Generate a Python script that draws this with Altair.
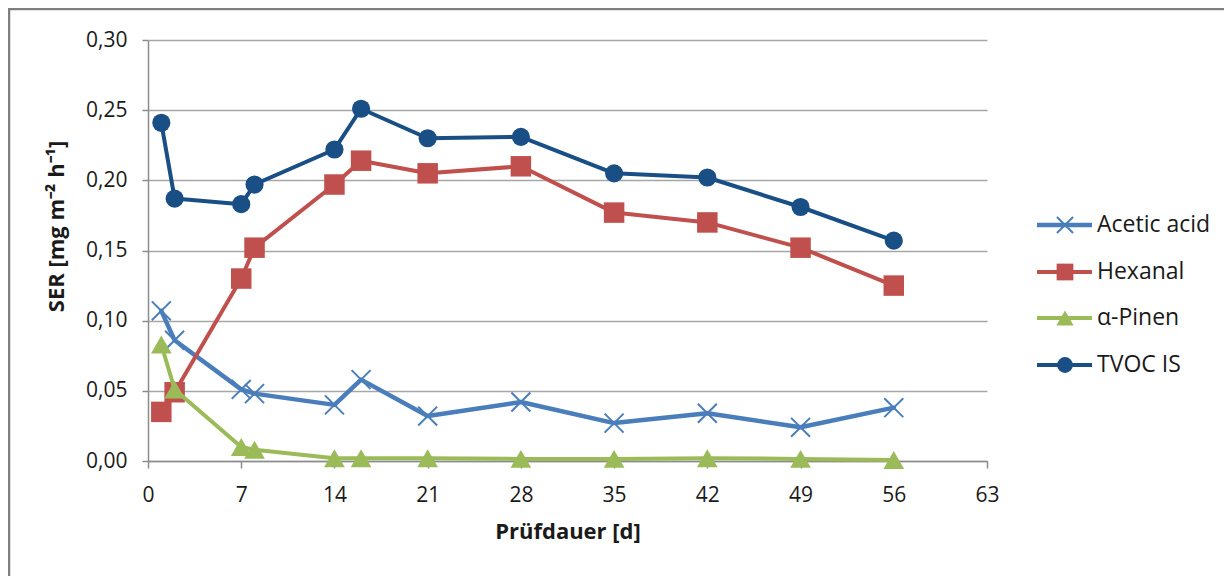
import altair as alt
import pandas as pd

# ---- data ----
days = [1, 2, 7, 8, 14, 16, 21, 28, 35, 42, 49, 56]
acetic_acid = [0.107, 0.086, 0.051, 0.048, 0.040, 0.058, 0.032, 0.042, 0.027, 0.034, 0.024, 0.038]
hexanal = [0.035, 0.049, 0.130, 0.152, 0.197, 0.214, 0.205, 0.210, 0.177, 0.170, 0.152, 0.125]
alpha_pinen = [0.083, 0.051, 0.010, 0.008, 0.002, 0.002, 0.002, 0.0015, 0.0015, 0.002, 0.0015, 0.0007]
tvoc_is = [0.241, 0.187, 0.183, 0.197, 0.222, 0.251, 0.230, 0.231, 0.205, 0.202, 0.181, 0.157]

series_names = ["Acetic acid", "Hexanal", "α-Pinen", "TVOC IS"]
series_values = [acetic_acid, hexanal, alpha_pinen, tvoc_is]
x_ticks = [0, 7, 14, 21, 28, 35, 42, 49, 56, 63]
y_ticks = [0.0, 0.05, 0.10, 0.15, 0.20, 0.25, 0.30]

# ---- styles ----
colors = ["#4A7EBB", "#C0504D", "#9BBB59", "#1A4F86"]
x_path = "M-1,-1L1,1M-1,1L1,-1"
shapes = [x_path, "square", "triangle-up", "circle"]
filled = [False, True, True, True]
sizes = [360, 420, 430, 330]
legend_sizes = [260, 280, 300, 250]
line_widths = [4.5, 4, 4, 4]

rows = []
for name, vals in zip(series_names, series_values):
    for d, v in zip(days, vals):
        rows.append({"series": name, "day": d, "value": v})
df = pd.DataFrame(rows)

FONT = "Open Sans"
GRID = "#A6A6A6"

x_enc = alt.X(
    "day:Q",
    scale=alt.Scale(domain=[0, 63], nice=False, zero=False),
    axis=alt.Axis(
        values=x_ticks, title="Prüfdauer [d]", grid=False,
        tickSize=7, labelPadding=16, labelFontSize=21, labelFont=FONT,
        labelColor="#1a1a1a", domainColor="#8C8C8C", tickColor="#8C8C8C",
        domainWidth=1.5, tickWidth=1.5, labelOverlap=False, labelFlush=False,
        titleFont=FONT, titleFontSize=22, titleFontWeight="bold",
        titleColor="#1a1a1a", titlePadding=16,
    ),
)
y_enc = alt.Y(
    "value:Q",
    scale=alt.Scale(domain=[0, 0.3], nice=False, zero=True),
    axis=alt.Axis(
        values=y_ticks, title="SER [mg m⁻² h⁻¹]", grid=True, gridColor=GRID,
        gridWidth=1.5, tickSize=6, labelPadding=15, labelFontSize=21,
        labelFont=FONT, labelColor="#1a1a1a", domainColor="#8C8C8C",
        tickColor="#8C8C8C", domainWidth=1.5, tickWidth=1.5,
        labelExpr="replace(format(datum.value, '.2f'), '.', ',')",
        labelOverlap=False, labelFlush=False,
        titleFont=FONT, titleFontSize=22, titleFontWeight="bold",
        titleColor="#1a1a1a", titleX=-80, titleY=186,
    ),
)

layers = []

# outer frame (decoration)
frame = alt.Chart(alt.Data(values=[{"k": 0}])).mark_rect(
    fill="white", fillOpacity=0, stroke="#7F7F7F", strokeWidth=2.5
).encode(x=alt.value(-139), x2=alt.value(1200), y=alt.value(-31), y2=alt.value(700))
layers.append(frame)

base = alt.Chart(df)
for i, name in enumerate(series_names):
    sub = base.transform_filter(alt.datum.series == name)
    line = sub.mark_line(color=colors[i], strokeWidth=line_widths[i],
                         strokeJoin="round", strokeCap="round").encode(x=x_enc, y=y_enc)
    if filled[i]:
        pt = sub.mark_point(shape=shapes[i], size=sizes[i], filled=True,
                            color=colors[i], opacity=1)
    else:
        pt = sub.mark_point(shape=shapes[i], size=sizes[i], filled=False,
                            color=colors[i], strokeWidth=2, opacity=1)
    layers += [line, pt.encode(x=x_enc, y=y_enc)]

# legend (manual, Excel style: line + marker)
legend_y = [185, 232, 278, 325]
for i, name in enumerate(series_names):
    one = alt.Chart(alt.Data(values=[{"label": name}]))
    rule = one.mark_rule(color=colors[i], strokeWidth=line_widths[i]).encode(
        x=alt.value(889), x2=alt.value(944), y=alt.value(legend_y[i]))
    if filled[i]:
        mk = one.mark_point(shape=shapes[i], size=legend_sizes[i], filled=True,
                            color=colors[i], opacity=1)
    else:
        mk = one.mark_point(shape=shapes[i], size=legend_sizes[i], filled=False,
                            color=colors[i], strokeWidth=2, opacity=1)
    mk = mk.encode(x=alt.value(917), y=alt.value(legend_y[i]))
    txt = one.mark_text(align="left", baseline="middle", font=FONT, fontSize=23,
                        color="#1a1a1a").encode(
        x=alt.value(949), y=alt.value(legend_y[i]), text="label:N")
    layers += [rule, mk, txt]

chart = alt.layer(*layers).properties(
    width=839, height=421,
    autosize=alt.AutoSizeParams(type="none"),
    padding={"left": 140, "top": 32, "right": 237, "bottom": 115},
    background="white",
).configure_view(stroke=None)

chart.save("out.html", embed_options={"renderer": "svg", "actions": False})
